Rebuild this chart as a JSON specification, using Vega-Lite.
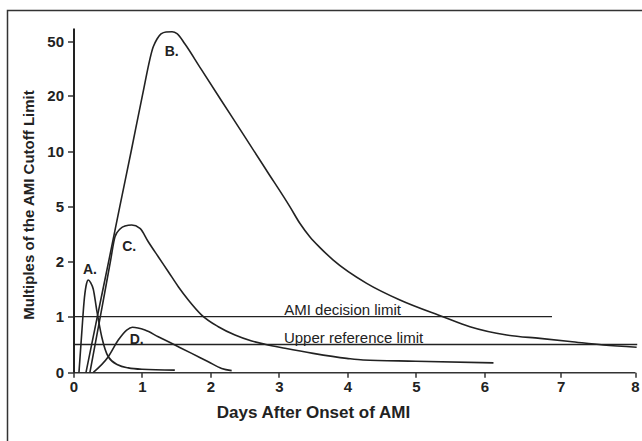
{
  "$schema": "https://vega.github.io/schema/vega-lite/v6.json",
  "width": 650,
  "height": 450,
  "autosize": "none",
  "padding": {"left": 7.5, "top": 10.5, "right": 0, "bottom": 0},
  "background": "white",
  "config": {
    "view": {"stroke": "#333333", "strokeWidth": 1.5},
    "font": "Liberation Sans"
  },
  "datasets": {
    "curves": [
      {"curve": "A", "day": 0.08, "value": 0},
      {"curve": "A", "day": 0.12, "value": 0.7},
      {"curve": "A", "day": 0.16, "value": 1.35},
      {"curve": "A", "day": 0.19, "value": 1.6},
      {"curve": "A", "day": 0.216, "value": 1.667},
      {"curve": "A", "day": 0.25, "value": 1.62},
      {"curve": "A", "day": 0.289, "value": 1.5},
      {"curve": "A", "day": 0.339, "value": 1.12},
      {"curve": "A", "day": 0.412, "value": 0.64},
      {"curve": "A", "day": 0.508, "value": 0.28},
      {"curve": "A", "day": 0.654, "value": 0.13},
      {"curve": "A", "day": 0.8, "value": 0.08},
      {"curve": "A", "day": 1.0, "value": 0.055},
      {"curve": "A", "day": 1.48, "value": 0.04},
      {"curve": "B", "day": 0.183, "value": 0},
      {"curve": "B", "day": 0.348, "value": 1},
      {"curve": "B", "day": 0.513, "value": 2},
      {"curve": "B", "day": 0.676, "value": 5},
      {"curve": "B", "day": 0.843, "value": 10},
      {"curve": "B", "day": 1.006, "value": 20},
      {"curve": "B", "day": 1.165, "value": 47.1},
      {"curve": "B", "day": 1.22, "value": 51.4},
      {"curve": "B", "day": 1.278, "value": 54.2},
      {"curve": "B", "day": 1.351, "value": 55.3},
      {"curve": "B", "day": 1.439, "value": 55.4},
      {"curve": "B", "day": 1.512, "value": 54.4},
      {"curve": "B", "day": 1.628, "value": 48.6},
      {"curve": "B", "day": 1.847, "value": 35.7},
      {"curve": "B", "day": 2.14, "value": 19.5},
      {"curve": "B", "day": 2.48, "value": 13.0},
      {"curve": "B", "day": 2.822, "value": 8.23},
      {"curve": "B", "day": 3.162, "value": 4.99},
      {"curve": "B", "day": 3.308, "value": 4.08},
      {"curve": "B", "day": 3.454, "value": 3.35},
      {"curve": "B", "day": 3.6, "value": 2.77},
      {"curve": "B", "day": 3.794, "value": 2.09},
      {"curve": "B", "day": 4.282, "value": 1.607},
      {"curve": "B", "day": 4.768, "value": 1.304},
      {"curve": "B", "day": 5.396, "value": 1.0},
      {"curve": "B", "day": 5.79, "value": 0.82},
      {"curve": "B", "day": 6.293, "value": 0.671},
      {"curve": "B", "day": 6.729, "value": 0.61},
      {"curve": "B", "day": 7.125, "value": 0.554},
      {"curve": "B", "day": 7.573, "value": 0.49},
      {"curve": "B", "day": 8.022, "value": 0.45},
      {"curve": "C", "day": 0.24, "value": 0},
      {"curve": "C", "day": 0.424, "value": 1.22},
      {"curve": "C", "day": 0.54, "value": 2.03},
      {"curve": "C", "day": 0.606, "value": 3.36},
      {"curve": "C", "day": 0.679, "value": 3.78},
      {"curve": "C", "day": 0.752, "value": 3.95},
      {"curve": "C", "day": 0.85, "value": 4.0},
      {"curve": "C", "day": 0.971, "value": 3.82},
      {"curve": "C", "day": 1.092, "value": 3.09},
      {"curve": "C", "day": 1.238, "value": 2.27},
      {"curve": "C", "day": 1.385, "value": 1.818},
      {"curve": "C", "day": 1.531, "value": 1.545},
      {"curve": "C", "day": 1.677, "value": 1.304},
      {"curve": "C", "day": 1.872, "value": 1.03},
      {"curve": "C", "day": 2.115, "value": 0.82},
      {"curve": "C", "day": 2.359, "value": 0.671},
      {"curve": "C", "day": 2.603, "value": 0.563},
      {"curve": "C", "day": 2.797, "value": 0.504},
      {"curve": "C", "day": 3.089, "value": 0.432},
      {"curve": "C", "day": 3.5, "value": 0.34},
      {"curve": "C", "day": 3.99, "value": 0.25},
      {"curve": "C", "day": 4.23, "value": 0.22},
      {"curve": "C", "day": 5.0, "value": 0.2},
      {"curve": "C", "day": 6.12, "value": 0.17},
      {"curve": "D", "day": 0.29, "value": 0},
      {"curve": "D", "day": 0.508, "value": 0.28},
      {"curve": "D", "day": 0.654, "value": 0.58},
      {"curve": "D", "day": 0.777, "value": 0.76},
      {"curve": "D", "day": 0.86, "value": 0.81},
      {"curve": "D", "day": 1.044, "value": 0.76},
      {"curve": "D", "day": 1.238, "value": 0.64},
      {"curve": "D", "day": 1.482, "value": 0.49},
      {"curve": "D", "day": 1.726, "value": 0.34},
      {"curve": "D", "day": 1.969, "value": 0.19},
      {"curve": "D", "day": 2.164, "value": 0.07},
      {"curve": "D", "day": 2.31, "value": 0.03}
    ],
    "limits": [
      {"limit": "AMI decision limit", "day": 0, "value": 1},
      {"limit": "AMI decision limit", "day": 6.886, "value": 1},
      {"limit": "Upper reference limit", "day": 0, "value": 0.5},
      {"limit": "Upper reference limit", "day": 8.03, "value": 0.5}
    ],
    "limitLabels": [
      {"label": "AMI decision limit", "day": 3.93, "value": 1},
      {"label": "Upper reference limit", "day": 4.09, "value": 0.5}
    ],
    "curveLabels": [
      {"label": "A.", "day": 0.24, "value": 1.85},
      {"label": "B.", "day": 1.434, "value": 44.4},
      {"label": "C.", "day": 0.813, "value": 2.82},
      {"label": "D.", "day": 0.923, "value": 0.58}
    ]
  },
  "encoding": {
    "x": {
      "field": "day",
      "type": "quantitative",
      "scale": {"domain": [0, 6, 7, 8], "range": [66, 476.8, 553.2, 627.5], "nice": false, "zero": false},
      "axis": {
        "values": [0, 1, 2, 3, 4, 5, 6, 7, 8],
        "offset": -88.2,
        "grid": false,
        "domainColor": "#333333",
        "domainWidth": 1.5,
        "tickColor": "#333333",
        "tickWidth": 1.5,
        "tickSize": 5,
        "labelFlush": false,
        "labelOverlap": false,
        "labelFont": "Liberation Sans",
        "labelFontSize": 15,
        "labelFontWeight": "bold",
        "labelColor": "#222222",
        "labelPadding": 2,
        "title": "Days After Onset of AMI",
        "titleFont": "Liberation Sans",
        "titleFontSize": 17,
        "titleFontWeight": "bold",
        "titleColor": "#222222",
        "titleX": 305.5,
        "titleY": 40,
        "titleAlign": "center",
        "titleBaseline": "middle"
      }
    },
    "y": {
      "field": "value",
      "type": "quantitative",
      "scale": {"domain": [0, 1, 2, 5, 10, 20, 50, 57.5], "range": [361.8, 306.2, 251.2, 196.2, 140.5, 85.2, 31, 17.5], "nice": false, "zero": false},
      "axis": {
        "values": [0, 1, 2, 5, 10, 20, 50],
        "offset": -66,
        "grid": false,
        "domainColor": "#222222",
        "domainWidth": 2,
        "tickColor": "#333333",
        "tickWidth": 1.5,
        "tickSize": 6,
        "labelOverlap": false,
        "labelFlush": false,
        "labelFont": "Liberation Sans",
        "labelFontSize": 15,
        "labelFontWeight": "bold",
        "labelColor": "#222222",
        "labelPadding": 4,
        "title": "Multiples of the AMI Cutoff Limit",
        "titleFont": "Liberation Sans",
        "titleFontSize": 15,
        "titleFontWeight": "bold",
        "titleColor": "#222222",
        "titleX": -44.6,
        "titleY": 194,
        "titleAngle": -90,
        "titleAlign": "center",
        "titleBaseline": "middle"
      }
    }
  },
  "layer": [
    {
      "data": {"name": "limits"},
      "mark": {"type": "line", "color": "#222222", "strokeWidth": 1.3},
      "encoding": {"detail": {"field": "limit"}}
    },
    {
      "data": {"name": "curves"},
      "mark": {"type": "line", "interpolate": "monotone", "color": "#222222", "strokeWidth": 1.6},
      "encoding": {"detail": {"field": "curve"}}
    },
    {
      "data": {"name": "limitLabels"},
      "mark": {"type": "text", "align": "center", "baseline": "alphabetic", "dy": -2, "fontSize": 15, "font": "Liberation Sans", "color": "#222222"},
      "encoding": {"text": {"field": "label"}}
    },
    {
      "data": {"name": "curveLabels"},
      "mark": {"type": "text", "align": "center", "baseline": "middle", "fontSize": 14, "fontWeight": "bold", "font": "Liberation Sans", "color": "#222222"},
      "encoding": {"text": {"field": "label"}}
    }
  ]
}
